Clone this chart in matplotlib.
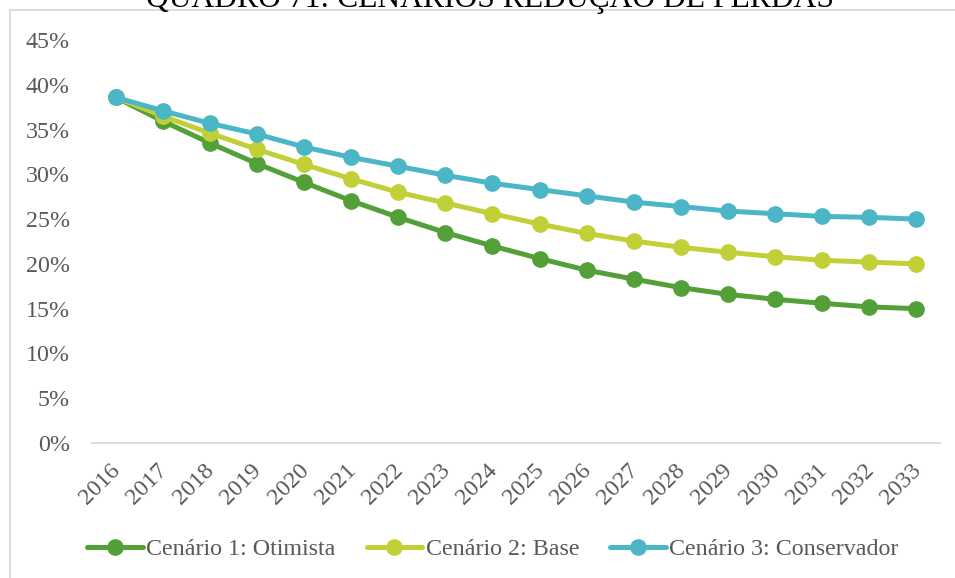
import matplotlib
matplotlib.use("Agg")
import matplotlib.pyplot as plt
from matplotlib.lines import Line2D
from matplotlib.ticker import FuncFormatter, MultipleLocator
import matplotlib.transforms as mtransforms

years = [str(y) for y in range(2016, 2034)]
otimista = [38.6, 35.95, 33.5, 31.2, 29.1, 27.05, 25.2, 23.5, 22.0, 20.6, 19.3, 18.3, 17.35, 16.6, 16.05, 15.6, 15.2, 15.0]
base = [38.6, 36.5, 34.6, 32.8, 31.1, 29.5, 28.0, 26.8, 25.6, 24.45, 23.4, 22.55, 21.85, 21.3, 20.8, 20.4, 20.2, 20.0]
conservador = [38.6, 37.1, 35.7, 34.5, 33.05, 31.9, 30.9, 29.9, 29.0, 28.3, 27.6, 26.9, 26.4, 25.9, 25.6, 25.3, 25.2, 25.0]
series_names = ["Cenário 1: Otimista", "Cenário 2: Base", "Cenário 3: Conservador"]
colors = ["#53A038", "#C2D038", "#4BB6C6"]
title = "QUADRO 71: CENÁRIOS REDUÇÃO DE PERDAS"

plt.rcParams['font.family'] = ['Liberation Serif', 'DejaVu Serif']
W, H = 955, 578
fig = plt.figure(figsize=(W / 100, H / 100), dpi=100)

# plot area: x 92..940, y 40..443 (pixels from top)
ax = fig.add_axes([92 / W, 1 - 443 / H, (940 - 92) / W, (443 - 40) / H])
x = list(range(len(years)))
for vals, name, c in zip([otimista, base, conservador], series_names, colors):
    ax.plot(x, [v / 100 for v in vals], color=c, lw=3.6, marker='o', ms=11,
            label=name, solid_capstyle='round', zorder=3)

ax.set_xlim(-0.5, len(years) - 0.5)
ax.set_ylim(0, 0.45)
ax.yaxis.set_major_locator(MultipleLocator(0.05))
ax.yaxis.set_major_formatter(FuncFormatter(lambda v, p: f"{v*100:.0f}%"))
ax.set_xticks(x)
ax.set_xticklabels(years, rotation=45, ha='right', va='top', rotation_mode='anchor')
for s in ['top', 'right', 'left']:
    ax.spines[s].set_visible(False)
ax.spines['bottom'].set_color('#D9D9D9')
ax.spines['bottom'].set_linewidth(1.3)
ax.tick_params(axis='both', length=0, labelsize=17.3, colors='#595959')
ax.tick_params(axis='y', pad=16)
ax.tick_params(axis='x', pad=12)
for lbl in ax.get_xticklabels():
    lbl.set_transform(lbl.get_transform() + mtransforms.ScaledTranslation(-6 / 100, 0, fig.dpi_scale_trans))

# chart border (left and top) and clipped title
fig.add_artist(Line2D([10 / W, 10 / W], [0, 1 - 10 / H], color='#D9D9D9', lw=1.3))
fig.add_artist(Line2D([10 / W, 1], [1 - 10 / H, 1 - 10 / H], color='#D9D9D9', lw=1.3))
fig.text(490 / W, 1 - 7 / H, title, ha='center', va='baseline', fontsize=22.8, color='#000000')

fig.legend(loc='center', bbox_to_anchor=(493 / W, 1 - 549 / H), ncol=3, frameon=False,
           fontsize=17.3, labelcolor='#595959', handlelength=2.3, handletextpad=0.15,
           columnspacing=1.3)

fig.savefig("out.png", dpi=100)
